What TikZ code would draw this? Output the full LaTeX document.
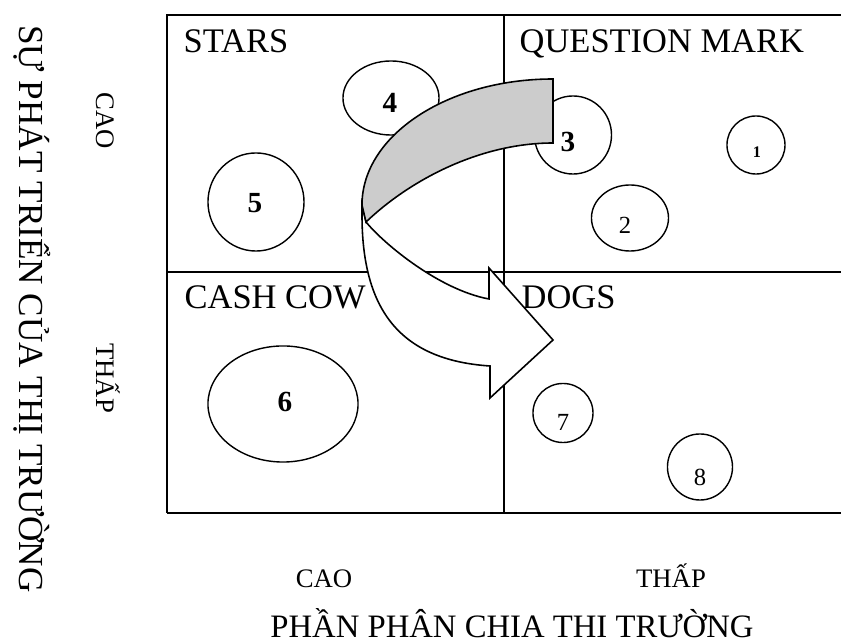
\documentclass[tikz,border=0pt]{standalone}
\usepackage{fontspec}
\setmainfont{Liberation Serif}
\usetikzlibrary{shapes.geometric}
\definecolor{bandgray}{RGB}{204,204,204}
\begin{document}
\begin{tikzpicture}[x=0.01cm,y=-0.01cm,
  gridline/.style={line width=0.6pt},
  bub/.style={draw,ellipse,line width=0.4pt,inner sep=0pt},
  quad/.style={font=\fontsize{9.8}{11}\selectfont,anchor=base west,inner sep=0pt},
  axsmall/.style={font=\fontsize{7.6}{9}\selectfont,anchor=base,inner sep=0pt},
  axbig/.style={font=\fontsize{10}{12}\selectfont,anchor=base,inner sep=0pt},
  digb/.style={font=\fontsize{8.3}{10}\selectfont\bfseries,inner sep=0pt},
  digr/.style={font=\fontsize{7}{9}\selectfont,inner sep=0pt},
  band/.style={line width=0.45pt,line join=miter}]
\useasboundingbox (0,0) rectangle (841,643);

% grid
\draw[gridline] (167,513) -- (167,15) -- (841,15);
\draw[gridline] (504,15) -- (504,513);
\draw[gridline] (167,272) -- (841,272);
\draw[gridline] (167,513) -- (841,513);

% quadrant labels
\node[quad] (stars) at (183,53) {STARS};
\node[quad] (qm) at (519,53) {QUESTION MARK};
\node[quad] (cow) at (184,309) {CASH COW};
\node[quad] (dogs) at (521,309) {DOGS};

% bubbles
\node[bub,minimum width=0.58cm,minimum height=0.58cm] (c1) at (756,145) {};
\node[bub,minimum width=0.77cm,minimum height=0.66cm] (c2) at (630,218) {};
\node[bub,minimum width=0.77cm,minimum height=0.78cm] (c3) at (573,135) {};
\node[bub,minimum width=0.96cm,minimum height=0.74cm] (c4) at (391,98) {};
\node[bub,minimum width=0.96cm,minimum height=0.98cm] (c5) at (256,202) {};
\node[bub,minimum width=1.50cm,minimum height=1.16cm] (c6) at (283,404) {};
\node[bub,minimum width=0.60cm,minimum height=0.59cm] (c7) at (563,413) {};
\node[bub,minimum width=0.65cm,minimum height=0.66cm] (c8) at (700,467) {};

\node[font=\fontsize{4.6}{6}\selectfont\bfseries,inner sep=0pt] (l1) at (757,152) {1};
\node[digr] (l2) at (625,225) {2};
\node[digb] (l3) at (568,142) {3};
\node[digb] (l4) at (390,103) {4};
\node[digb] (l5) at (255,203) {5};
\node[digb] (l6) at (285,402) {6};
\node[digr] (l7) at (563,422) {7};
\node[digr] (l8) at (700,477) {8};

% curved arrow: white front
\filldraw[band,fill=white] (362,205) -- (362,215)
  .. controls (362,310) and (400,360) .. (490,366)
  -- (490,398) -- (553,340) -- (489,268) -- (489,299)
  .. controls (440,290) and (385,245) .. (366,222) -- cycle;
% gray back
\filldraw[band,fill=bandgray] (553,79)
  .. controls (447.6,79) and (362,135.4) .. (362,205)
  -- (366,222)
  .. controls (410,180) and (480,143) .. (553,143) -- cycle;

% axes
\node[axbig,rotate=-90] (ytitle) at (19,309) {SỰ PHÁT TRIỂN CỦA THỊ TRƯỜNG};
\node[axsmall,rotate=-90] (ycao) at (97,121) {CAO};
\node[axsmall,rotate=-90] (ythap) at (97,378) {THẤP};
\node[axsmall] (xcao) at (324,588) {CAO};
\node[axsmall] (xthap) at (671,588) {THẤP};
\node[axbig,font=\fontsize{9.3}{11}\selectfont] (xtitle) at (512,638) {PHẦN PHÂN CHIA THI TRƯỜNG};
\end{tikzpicture}
\end{document}
